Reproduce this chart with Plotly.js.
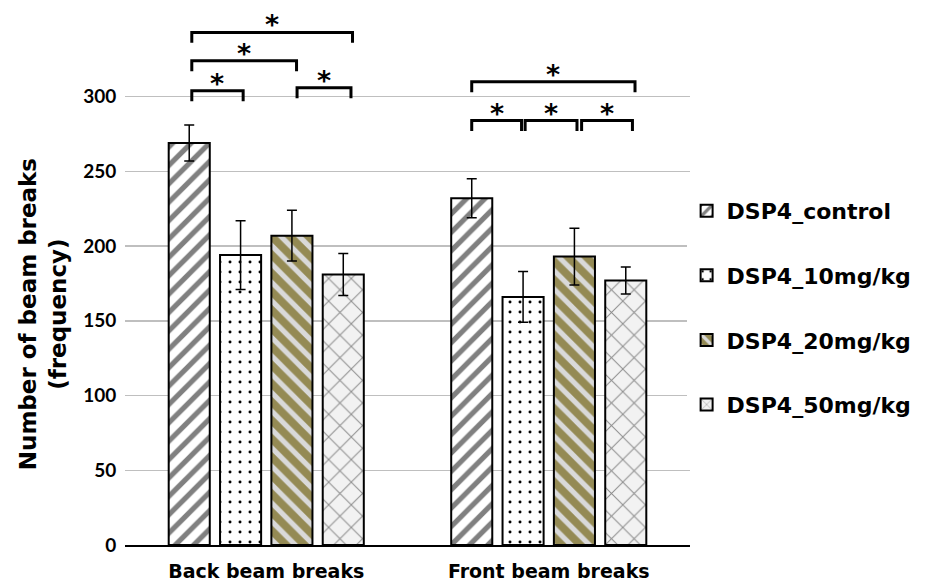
<!DOCTYPE html>
<html>
<head>
<meta charset="utf-8">
<script src="https://cdn.plot.ly/plotly-3.0.1.min.js"></script>
<style>html,body{margin:0;padding:0;background:#fff;}#chart{width:930px;height:582px;}</style>
</head>
<body>
<div id="chart"></div>
<script>
// ---- data ----
const categories = ["Back beam breaks", "Front beam breaks"];
const seriesNames = ["DSP4_control", "DSP4_10mg/kg", "DSP4_20mg/kg", "DSP4_50mg/kg"];
const controlVals = [269, 232];
const dose10Vals = [194, 166];
const dose20Vals = [207, 193];
const dose50Vals = [181, 177];
const controlErr = [12, 13];
const dose10Err = [23, 17];
const dose20Err = [17, 19];
const dose50Err = [14, 9];
const yTickVals = [0, 50, 100, 150, 200, 250, 300];
const yTitle = "Number of beam breaks<br>(frequency)";
// significance brackets: [group index, left (bar units), right (bar units), bracket level, label]
const brackets = [
  [0, 0.05, 1.05, 304, "*"],
  [0, 2.10, 3.15, 306, "*"],
  [0, 0.05, 2.09, 324, "*"],
  [0, 0.05, 3.18, 343, "*"],
  [1, 0.00, 3.18, 310, "*"],
  [1, 0.00, 0.97, 284, "*"],
  [1, 1.04, 2.05, 284, "*"],
  [1, 2.14, 3.13, 284, "*"]
];

// ---- styling ----
const values = [controlVals, dose10Vals, dose20Vals, dose50Vals];
const errs = [controlErr, dose10Err, dose20Err, dose50Err];
const patterns = [
  {shape: "/", fgcolor: "#808080", bgcolor: "#ffffff", size: 13, solidity: 0.4},
  {shape: ".", fgcolor: "#000000", bgcolor: "#ffffff", size: 10, solidity: 0.07},
  {shape: "\\", fgcolor: "#D9D9D9", bgcolor: "#948A54", size: 13, solidity: 0.4},
  {shape: "x", fgcolor: "#8c8c8c", bgcolor: "#F2F2F2", size: 16, solidity: 0.12}
];
const bargap = 0.273;
const nSeries = seriesNames.length;
const slot = (1 - bargap) / nSeries;

const traces = seriesNames.map((name, i) => ({
  type: "bar",
  name: name,
  x: categories,
  y: values[i],
  legendgroup: "g" + i,
  marker: {pattern: patterns[i], color: patterns[i].bgcolor, line: {color: "#000", width: 2}},
  error_y: {type: "data", array: errs[i], visible: true, color: "#000", thickness: 1.5, width: 5}
}));

const shapes = [];
const annotations = [];
const legLen = 7;
brackets.forEach(b => {
  const [g, l, r, lvl, lab] = b;
  const x0 = g - (1 - bargap) / 2 + slot * (l + 0.5);
  const x1 = g - (1 - bargap) / 2 + slot * (r + 0.5);
  shapes.push({
    type: "path", xref: "x", yref: "y",
    path: `M ${x0} ${lvl - legLen} L ${x0} ${lvl} L ${x1} ${lvl} L ${x1} ${lvl - legLen}`,
    line: {color: "#000", width: 3}
  });
  annotations.push({
    xref: "x", yref: "y", x: (x0 + x1) / 2, y: lvl, yanchor: "bottom", yshift: -10,
    text: lab, showarrow: false,
    font: {family: "DejaVu Sans", size: 27, color: "#000", weight: "bold"}
  });
});
// y-axis title (placed as annotation to match the reference's off-centre position)
annotations.push({
  xref: "paper", yref: "paper", x: -0.146, y: 0.428, xanchor: "center", yanchor: "middle",
  textangle: -90, text: yTitle, showarrow: false,
  font: {family: "DejaVu Sans", size: 23, color: "#000", weight: "bold"}
});

const layout = {
  width: 930, height: 582,
  margin: {l: 125, r: 240, t: 7, b: 37},
  paper_bgcolor: "#fff", plot_bgcolor: "#fff",
  barmode: "group", bargap: bargap, bargroupgap: 0.2,
  showlegend: true,
  legend: {
    x: 0.994, xanchor: "left", y: 0.66, yanchor: "top",
    traceorder: "grouped", tracegroupgap: 33,
    font: {family: "DejaVu Sans", size: 22, color: "#000", weight: "bold"},
    itemwidth: 30
  },
  xaxis: {
    type: "category", range: [-0.5, 1.5],
    showline: true, linecolor: "#000", linewidth: 1.5,
    ticks: "outside", ticklen: 9, tickcolor: "rgba(0,0,0,0)",
    tickfont: {family: "DejaVu Sans", size: 19, color: "#000", weight: "bold"},
    showgrid: false, zeroline: false
  },
  yaxis: {
    range: [0, 360], tickvals: yTickVals,
    showgrid: true, gridcolor: "#BFBFBF", gridwidth: 1.5,
    zeroline: false, showline: false,
    ticks: "outside", ticklen: 4, tickcolor: "rgba(0,0,0,0)",
    tickfont: {family: "Lato", size: 19, color: "#000", weight: "bold"}
  },
  shapes: shapes,
  annotations: annotations
};

Plotly.newPlot("chart", traces, layout, {displayModeBar: false, staticPlot: true});
</script>
</body>
</html>
